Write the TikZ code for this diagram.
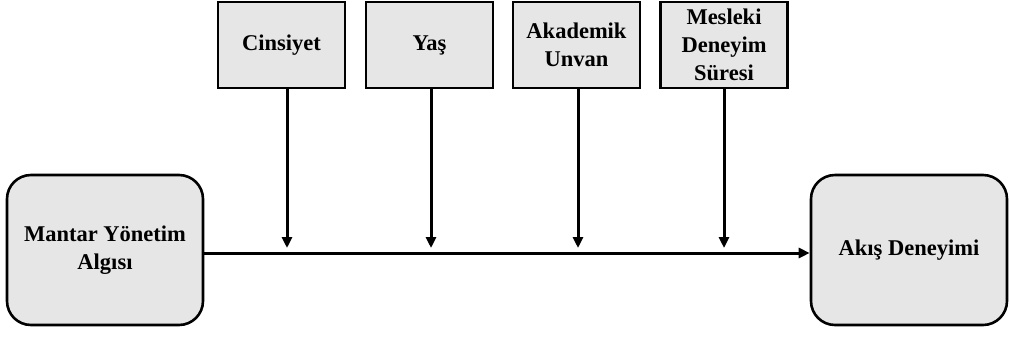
\documentclass[tikz,border=0pt]{standalone}
\usepackage{fontspec}
\setmainfont{Liberation Serif}
\usetikzlibrary{arrows.meta}
\definecolor{boxgray}{RGB}{230,230,230}
\tikzset{
  boxtext/.style={align=center, inner sep=0pt,
    font=\fontsize{22.5}{28}\selectfont\bfseries},
  modbox/.style={draw=black, line width=2.6pt, fill=boxgray, rectangle,
    minimum width=127pt, minimum height=86pt, inner sep=0pt},
  varbox/.style={draw=black, line width=2.6pt, fill=boxgray, rectangle,
    rounded corners=24pt, minimum width=196pt, minimum height=150pt,
    inner sep=0pt},
  link/.style={line width=3pt, -{Triangle[length=11pt,width=10pt]}}
}
\begin{document}
\begin{tikzpicture}[x=1pt,y=-1pt]
\useasboundingbox (0,0) rectangle (1009,338);
% moderator boxes along the top (fixed size, text set on top)
\node[modbox] (c1) at (281.5,45) {};
\node[modbox] (c2) at (429.5,45) {};
\node[modbox] (c3) at (576.5,45) {};
\node[modbox] (c4) at (724,45) {};
\node[boxtext] (t1) at (c1) {Cinsiyet};
\node[boxtext] (t2) at (c2) {Yaş};
\node[boxtext] (t3) at (c3) {Akademik\\Unvan};
\node[boxtext] (t4) at (c4) {Mesleki\\Deneyim\\Süresi};
% independent and dependent variables
\node[varbox] (m) at (105,250) {};
\node[varbox] (a) at (909,250) {};
\node[boxtext] (tm) at (m) {Mantar Yönetim\\Algısı};
\node[boxtext] (ta) at (a) {Akış Deneyimi};
% points where the moderators meet the main path
\coordinate (p1) at (287,248);
\coordinate (p2) at (431,248);
\coordinate (p3) at (578,248);
\coordinate (p4) at (724,248);
\coordinate (yl) at (0,253);
% main path
\draw[link] (m.east |- yl) -- (a.west |- yl);
% moderator arrows
\draw[link] (c1.south -| p1) -- (p1);
\draw[link] (c2.south -| p2) -- (p2);
\draw[link] (c3.south -| p3) -- (p3);
\draw[link] (c4.south -| p4) -- (p4);
\end{tikzpicture}
\end{document}
